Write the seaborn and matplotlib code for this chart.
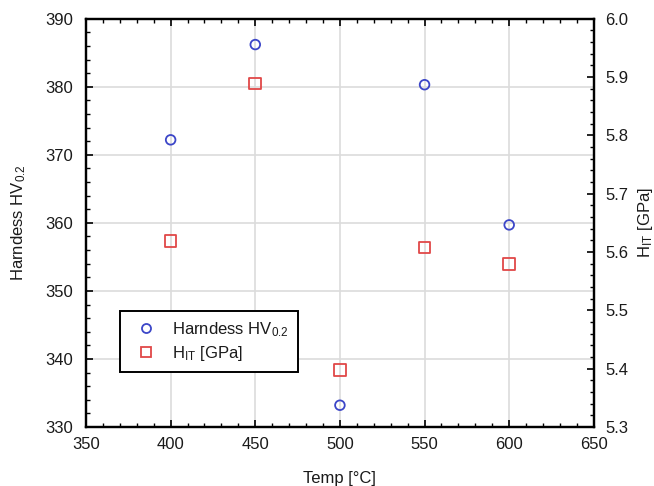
import matplotlib
matplotlib.use("Agg")
import matplotlib.pyplot as plt
from matplotlib.ticker import MultipleLocator, AutoMinorLocator, FormatStrFormatter
from matplotlib.lines import Line2D
import seaborn as sns
import pandas as pd

# Measured values per annealing temperature
temps = [400, 450, 500, 550, 600]
hardness_hv = [372.2, 386.2, 333.2, 380.3, 359.7]
hit_gpa = [5.619, 5.889, 5.398, 5.608, 5.579]

df = pd.DataFrame({"temp": temps, "hv": hardness_hv, "hit": hit_gpa})

sns.set_theme(style="white")
plt.rcParams["font.family"] = ["Liberation Sans", "DejaVu Sans"]
plt.rcParams["mathtext.fontset"] = "custom"
plt.rcParams["mathtext.rm"] = "Liberation Sans"
plt.rcParams["mathtext.it"] = "Liberation Sans"
txt = "#1a1a1a"
plt.rcParams["text.color"] = txt
plt.rcParams["axes.labelcolor"] = txt
plt.rcParams["xtick.labelcolor"] = txt
plt.rcParams["ytick.labelcolor"] = txt

blue = "#3c46c8"
red = "#e04848"
fs = 12

fig = plt.figure(figsize=(6.54, 4.86), dpi=100)
ax = fig.add_axes([0.1315, 0.1214, 0.7765, 0.8401])
ax2 = ax.twinx()

sns.scatterplot(data=df, x="temp", y="hv", ax=ax, marker="o", s=48,
                facecolor="none", edgecolor=blue, linewidth=1.3, zorder=3)
sns.scatterplot(data=df, x="temp", y="hit", ax=ax2, marker="s", s=70,
                facecolor="none", edgecolor=red, linewidth=1.3, zorder=3)

ax.set_xlim(350, 650)
ax.set_ylim(330, 390)
ax2.set_ylim(5.3, 6.0)
ax.xaxis.set_major_locator(MultipleLocator(50))
ax.yaxis.set_major_locator(MultipleLocator(10))
ax2.yaxis.set_major_locator(MultipleLocator(0.1))
for a in (ax.xaxis, ax.yaxis, ax2.yaxis):
    a.set_minor_locator(AutoMinorLocator(5))

ax.grid(True, which="major", color="#dcdcdc", linewidth=1.2)
ax.set_axisbelow(True)

ax.tick_params(axis="x", which="both", direction="in", top=True, bottom=True,
               color="black", labelsize=fs, pad=7)
ax.tick_params(axis="y", which="both", direction="in", left=True, right=False,
               color="black", labelsize=fs, pad=9)
ax2.tick_params(axis="y", which="both", direction="in", right=True,
                color="black", labelsize=fs, pad=8)
for a in (ax, ax2):
    a.tick_params(which="major", length=5, width=1.2)
    a.tick_params(which="minor", length=3, width=1.0)
    for sp in a.spines.values():
        sp.set_color("black")
        sp.set_linewidth(1.6)

ax2.yaxis.set_major_formatter(FormatStrFormatter("%.1f"))

ax.set_xlabel("Temp [°C]", fontsize=fs, labelpad=14)
ax.set_ylabel("Harndess HV$_{0.2}$", fontsize=fs, labelpad=13)
ax2.set_ylabel("H$_{IT}$ [GPa]", fontsize=fs, labelpad=6)

handles = [
    Line2D([], [], linestyle="none", marker="o", markersize=6.5,
           markerfacecolor="none", markeredgecolor=blue, markeredgewidth=1.3),
    Line2D([], [], linestyle="none", marker="s", markersize=7,
           markerfacecolor="none", markeredgecolor=red, markeredgewidth=1.3),
]
leg = ax2.legend(handles, ["Harndess HV$_{0.2}$", "H$_{IT}$ [GPa]"],
                 loc="upper left", bbox_to_anchor=(0.067, 0.284),
                 fontsize=fs, frameon=True, fancybox=False,
                 borderpad=0.55, handletextpad=0.55, labelspacing=0.3,
                 borderaxespad=0)
leg.get_frame().set_edgecolor("black")
leg.get_frame().set_linewidth(1.4)
leg.get_frame().set_facecolor("white")
leg.get_frame().set_alpha(1)

fig.savefig("out.png", dpi=100)
